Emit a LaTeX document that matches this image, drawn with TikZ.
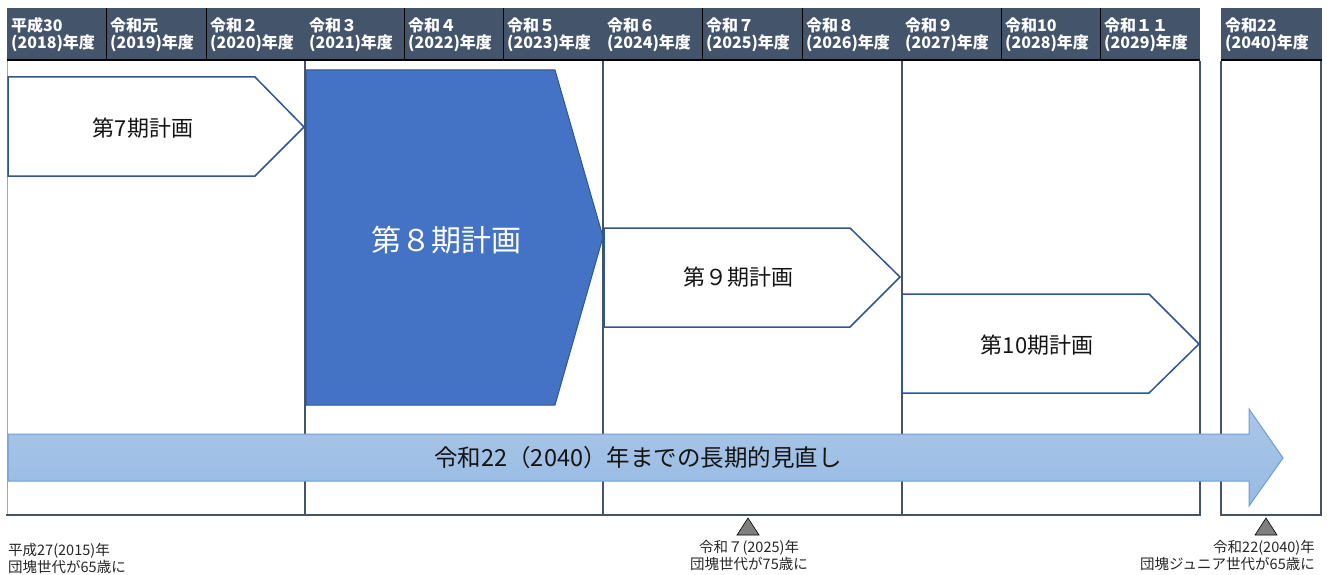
\documentclass[tikz,border=0pt]{standalone}
\usepackage{fontspec}
\newfontfamily\jp{Noto Sans CJK JP}
\definecolor{hdr}{HTML}{44546A}
\definecolor{planline}{HTML}{2F5597}
\definecolor{planfill}{HTML}{4472C4}
\definecolor{lightframe}{HTML}{9AA8BE}
\definecolor{arrtop}{HTML}{AAC6E8}
\definecolor{arrbot}{HTML}{97BAE3}
\definecolor{arrline}{HTML}{6F9DD6}
\definecolor{trigray}{HTML}{7F7F7F}
\tikzset{
  hdrtext/.style={anchor=west, inner sep=0pt, align=left, text=white,
    font=\jp\bfseries\fontsize{16}{17}\selectfont},
  frameline/.style={draw=hdr, line width=2pt},
  planbox/.style={draw=planline, line width=1.5pt, fill=white, line join=miter},
  plantext/.style={inner sep=0pt, text=black!92, font=\jp\fontsize{22}{24}\selectfont},
  notetext/.style={inner sep=0pt, text=black!85, font=\jp\fontsize{14.5}{17}\selectfont},
  tri/.style={fill=trigray, draw=black, line width=0.6pt}
}
\begin{document}
\begin{tikzpicture}[x=1pt,y=-1pt]
\useasboundingbox (0,0) rectangle (1327,575);
% header bands
\fill[hdr] (7,8) rectangle (1200,60);
\fill[hdr] (1221,8) rectangle (1322,60);
\foreach \x in {106,206,404,503,702,802,1001,1100}
  \draw[black, line width=0.8pt] (\x,8) -- (\x,59);
\draw[black, line width=1.6pt] (7,60) -- (1200,60);
\draw[black, line width=1.6pt] (1221,60) -- (1322,60);
% header texts
\node[hdrtext] (h1)  at (11,35)   {平成30\\(2018)年度};
\node[hdrtext] (h2)  at (110,35)  {令和元\\(2019)年度};
\node[hdrtext] (h3)  at (210,35)  {令和２\\(2020)年度};
\node[hdrtext] (h4)  at (309,35)  {令和３\\(2021)年度};
\node[hdrtext] (h5)  at (408,35)  {令和４\\(2022)年度};
\node[hdrtext] (h6)  at (507,35)  {令和５\\(2023)年度};
\node[hdrtext] (h7)  at (607,35)  {令和６\\(2024)年度};
\node[hdrtext] (h8)  at (706,35)  {令和７\\(2025)年度};
\node[hdrtext] (h9)  at (806,35)  {令和８\\(2026)年度};
\node[hdrtext] (h10) at (905,35)  {令和９\\(2027)年度};
\node[hdrtext] (h11) at (1005,35) {令和10\\(2028)年度};
\node[hdrtext] (h12) at (1104,35) {令和１１\\(2029)年度};
\node[hdrtext] (h13) at (1225,35) {令和22\\(2040)年度};
% frame lines
\draw[lightframe, line width=1pt] (7,61) -- (7,515);
\foreach \x in {305,603,902,1200,1221,1321}
  \draw[frameline] (\x,61) -- (\x,516);
\draw[frameline] (6,515) -- (1201,515);
\draw[frameline] (1220,515) -- (1322,515);
% plans
\draw[planbox] (8,77) -- (255,77) -- (304,127) -- (255,176) -- (8,176) -- cycle;
\node[plantext] (p7) at (143,128) {第7期計画};
\draw[planbox, fill=planfill, line width=1pt] (306,70) -- (555,70) -- (603,237) -- (555,405) -- (306,405) -- cycle;
\node[plantext, text=white, font=\jp\fontsize{30}{32}\selectfont] (p8) at (446,240) {第８期計画};
\draw[planbox] (604,228) -- (850,228) -- (900,277) -- (850,327) -- (604,327) -- cycle;
\node[plantext] (p9) at (738,277) {第９期計画};
\draw[planbox] (902,294) -- (1149,294) -- (1199,344) -- (1149,393) -- (902,393) -- cycle;
\node[plantext] (p10) at (1037,345) {第10期計画};
% long-term arrow
\path[draw=arrline, line width=1pt, top color=arrtop, bottom color=arrbot]
  (8,434) -- (1249,434) -- (1249,409) -- (1283,458) -- (1249,506) -- (1249,481) -- (8,481) -- cycle;
\node[plantext, font=\jp\fontsize{23.5}{26}\selectfont] (lt) at (638,458) {令和22（2040）年までの長期的見直し};
% markers
\draw[tri] (748,518) -- (759,535) -- (737,535) -- cycle;
\draw[tri] (1266,518) -- (1277,535) -- (1255,535) -- cycle;
% notes
\node[notetext, anchor=north west, align=left] (n1) at (8,543) {平成27(2015)年\\団塊世代が65歳に};
\node[notetext, anchor=north, align=center] (n2) at (749,540) {令和７(2025)年\\団塊世代が75歳に};
\node[notetext, anchor=north east, align=right] (n3) at (1315,540) {令和22(2040)年\\団塊ジュニア世代が65歳に};
\end{tikzpicture}
\end{document}
